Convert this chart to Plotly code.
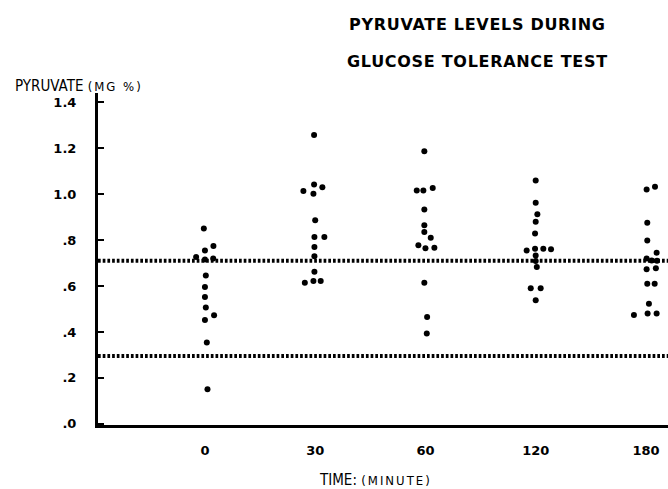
import plotly.graph_objects as go

# ---- data ----
time_labels = ["0", "30", "60", "120", "180"]

pyruvate_0 = [0.85, 0.774, 0.755, 0.726, 0.715, 0.72, 0.646, 0.596, 0.552, 0.506, 0.473, 0.452, 0.354, 0.151]
jitter_0 = [-0.01, 0.077, 0.0, -0.08, 0.0, 0.075, 0.008, 0.0, 0.0, 0.008, 0.083, 0.0, 0.017, 0.023]

pyruvate_30 = [1.257, 1.042, 1.03, 1.013, 1.001, 0.886, 0.813, 0.813, 0.77, 0.73, 0.662, 0.614, 0.622, 0.622]
jitter_30 = [-0.01, -0.01, 0.065, -0.107, -0.016, 0.0, -0.007, 0.083, -0.007, -0.007, -0.007, -0.094, -0.016, 0.05]

pyruvate_60 = [1.187, 1.016, 1.016, 1.027, 0.933, 0.864, 0.835, 0.81, 0.777, 0.764, 0.767, 0.614, 0.465, 0.393]
jitter_60 = [-0.01, -0.079, -0.019, 0.066, -0.01, -0.01, -0.01, 0.048, -0.064, 0.0, 0.081, -0.01, 0.015, 0.012]

pyruvate_120 = [1.059, 0.962, 0.912, 0.88, 0.829, 0.755, 0.762, 0.762, 0.76, 0.733, 0.709, 0.683, 0.59, 0.59, 0.538]
jitter_120 = [0.0, 0.0, 0.015, 0.0, -0.006, -0.082, -0.006, 0.069, 0.139, 0.0, 0.0, 0.01, -0.045, 0.045, 0.0]

pyruvate_180 = [1.02, 1.032, 0.875, 0.798, 0.745, 0.72, 0.711, 0.71, 0.673, 0.677, 0.61, 0.61, 0.523, 0.474, 0.48, 0.48]
jitter_180 = [0.006, 0.082, 0.012, 0.012, 0.097, 0.006, 0.052, 0.1, 0.006, 0.09, 0.012, 0.079, 0.027, -0.109, 0.015, 0.097]

normal_range = [0.71, 0.295]

y_tick_values = [0, 0.2, 0.4, 0.6, 0.8, 1.0, 1.2, 1.4]
y_tick_labels = [".0", ".2", ".4", ".6", ".8", "1.0", "1.2", "1.4"]

groups = [pyruvate_0, pyruvate_30, pyruvate_60, pyruvate_120, pyruvate_180]
jitters = [jitter_0, jitter_30, jitter_60, jitter_120, jitter_180]

xs, ys = [], []
for i, (vals, jit) in enumerate(zip(groups, jitters)):
    for v, j in zip(vals, jit):
        xs.append(i + j)
        ys.append(v)

fig = go.Figure()
for ref in normal_range:
    fig.add_hline(y=ref, line=dict(color="black", width=4, dash="2.7px,2px"), layer="below")

fig.add_trace(go.Scatter(x=xs, y=ys, mode="markers",
                         marker=dict(color="black", size=6, line=dict(width=0)),
                         showlegend=False, hoverinfo="y"))

bold_family = "DejaVu Sans, Liberation Sans, Arial, sans-serif"
tick_font = dict(family=bold_family, size=13, color="black", weight="bold")
cond = "Liberation Sans Narrow, DejaVu Sans Condensed, Arial Narrow, sans-serif"
title_font = dict(family=bold_family, size=16, color="black", weight="bold")
ls = "letter-spacing:0.7px"

fig.update_layout(
    width=668, height=489,
    margin=dict(l=98, r=0, t=93, b=64),
    paper_bgcolor="white", plot_bgcolor="white",
    xaxis=dict(range=[-0.97, 4.2], showgrid=False, zeroline=False,
               showline=True, linecolor="black", linewidth=3,
               tickvals=list(range(len(time_labels))), ticktext=time_labels,
               ticks="", tickfont=tick_font, ticklabelstandoff=11),
    yaxis=dict(range=[-0.005, 1.44], showgrid=False, zeroline=False,
               showline=True, linecolor="black", linewidth=3,
               tickvals=y_tick_values, ticktext=y_tick_labels,
               ticks="inside", ticklen=6, tickwidth=2, tickcolor="black",
               tickfont=tick_font, ticklabelstandoff=16),
    annotations=[
        dict(text=f"<span style='{ls}'>PYRUVATE LEVELS DURING</span>", xref="paper", yref="paper",
             x=0.665, y=1.205, showarrow=False, xanchor="center", yanchor="middle", font=title_font),
        dict(text=f"<span style='{ls}'>GLUCOSE TOLERANCE TEST</span>", xref="paper", yref="paper",
             x=0.665, y=1.096, showarrow=False, xanchor="center", yanchor="middle", font=title_font),
        dict(text="PYRUVATE <span style='font-size:13px;letter-spacing:2px'>(MG %)</span>",
             xref="paper", yref="paper",
             x=-0.149, y=1.021, showarrow=False, xanchor="left", yanchor="middle",
             font=dict(family=cond, size=15, color="black")),
        dict(text="TIME: <span style='font-size:13px;letter-spacing:2px'>(MINUTE)</span>",
             xref="paper", yref="paper",
             x=0.486, y=-0.166, showarrow=False, xanchor="center", yanchor="middle",
             font=dict(family=cond, size=15, color="black")),
    ],
)

fig.write_html("out.html", config={"displayModeBar": False})

# remove the default page margin so the figure sits at the window's top-left corner
with open("out.html", "r", encoding="utf-8") as f:
    html = f.read()
html = html.replace("<head>", "<head><style>html,body{margin:0;padding:0;overflow:hidden;}</style>", 1)
with open("out.html", "w", encoding="utf-8") as f:
    f.write(html)
